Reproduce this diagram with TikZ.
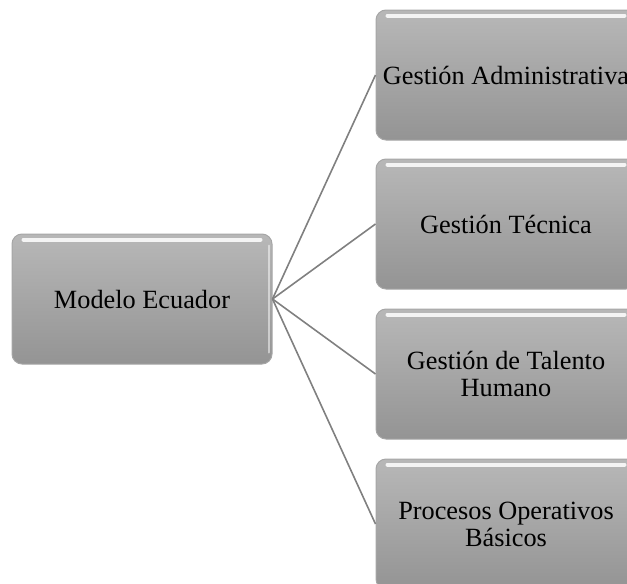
\documentclass[tikz,border=0pt]{standalone}
\usepackage{fontspec}
\setmainfont{Liberation Serif}
\begin{document}
\begin{tikzpicture}[x=1pt,y=-1pt,
  box/.style={rectangle, rounded corners=10pt, minimum width=260pt, minimum height=130pt,
    top color=black!28, bottom color=black!42, draw=black!35, line width=1pt,
    font=\fontsize{26.3}{27}\selectfont, align=center, text=black, inner sep=0pt},
  conn/.style={draw=black!50, line width=1.6pt}]
\clip (0,0) rectangle (627,584);
\node[box] (m) at (142,299) {Modelo Ecuador};
\node[box] (a) at (506,75) {Gestión Administrativa};
\node[box] (t) at (506,224) {Gestión Técnica};
\node[box] (h) at (506,374) {Gestión de Talento\\Humano};
\node[box] (p) at (506,524) {Procesos Operativos\\Básicos};
\foreach \n in {m,a,t,h,p}{
  \draw[white, line width=4pt, opacity=0.85, line cap=round]
    ([xshift=12pt,yshift=-6pt]\n.north west) -- ([xshift=-12pt,yshift=-6pt]\n.north east);
  \draw[white, line width=2pt, opacity=0.5, line cap=round]
    ([xshift=-4pt,yshift=-12pt]\n.north east) -- ([xshift=-4pt,yshift=12pt]\n.south east);
}
\foreach \n in {a,t,h,p}{
  \draw[conn] (m.east) -- (\n.west);
}
\end{tikzpicture}
\end{document}
